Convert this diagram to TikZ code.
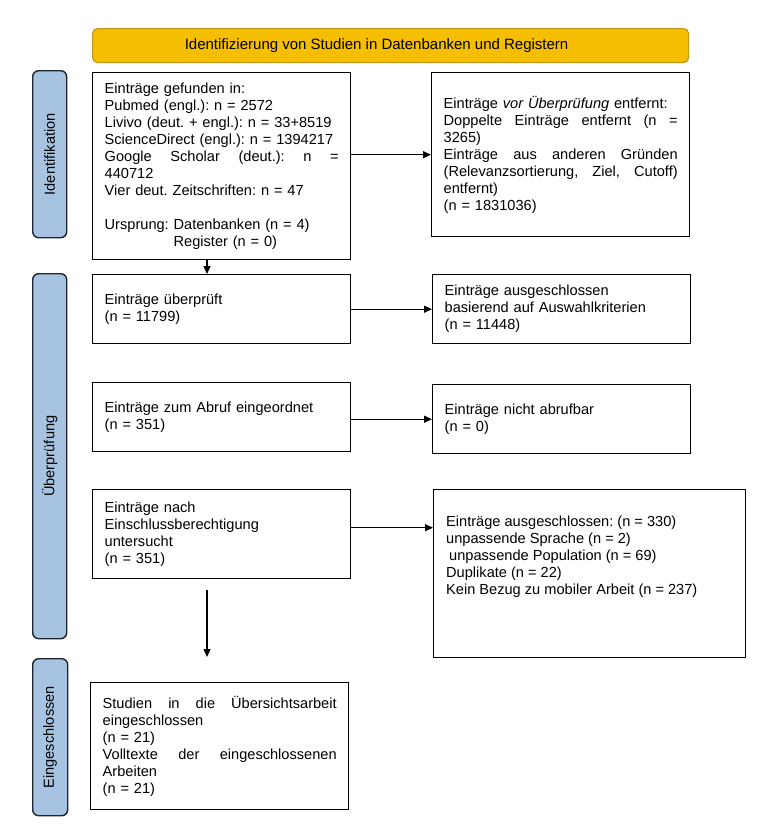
\documentclass[tikz,border=0pt]{standalone}
\usepackage{fontspec}
\setmainfont{Liberation Sans}
\usetikzlibrary{arrows.meta}
\definecolor{bannerfill}{RGB}{246,190,0}
\definecolor{bannerline}{RGB}{196,152,20}
\definecolor{labfill}{RGB}{166,196,226}
\definecolor{labline}{RGB}{30,36,44}
\begin{document}
\frenchspacing
\begin{tikzpicture}[x=1pt,y=-1pt,
  every node/.style={font=\fontsize{14.6}{17}\selectfont},
  box/.style={draw=black, line width=1.4pt, fill=white, inner xsep=12pt, inner ysep=3pt,
    text width=#1, align=left, anchor=north west},
  box/.default=234pt,
  lab/.style={draw=labline, line width=1.4pt, fill=labfill, rounded corners=6pt,
    inner sep=0pt, minimum width=34pt, anchor=north west},
  banner/.style={draw=bannerline, line width=1.2pt, fill=bannerfill, rounded corners=5pt,
    inner sep=0pt, minimum width=596pt, minimum height=34pt, anchor=north west},
  txt/.style={inner sep=0pt, align=left, anchor=north west},
  arr/.style={-{Triangle[length=8pt,width=7pt]}, line width=1.3pt}]
\useasboundingbox (0,0) rectangle (770,833);
\fill[white] (0,0) rectangle (770,833);

\node[banner] (ban) at (92,28) {};
\node[inner sep=0pt, font=\fontsize{15}{17}\selectfont] (bant) at ([xshift=-14pt]ban.center) {Identifizierung von Studien in Datenbanken und Registern};

\node[lab, minimum height=167pt] (l1) at (32,70) {\rotatebox{90}{Identifikation}};
\node[lab, minimum height=365pt] (l2) at (32,273) {\rotatebox{90}{Überprüfung}};
\node[lab, minimum height=157pt, minimum width=35pt] (l3) at (32,658) {\rotatebox{90}{Eingeschlossen}};

\node[box, minimum height=187pt] (b1) at (92,72) {Einträge gefunden in:\\
Pubmed (engl.): n = 2572\\
Livivo (deut. + engl.): n = 33+8519\\
ScienceDirect (engl.): n = 1394217\\
Google\hfill Scholar\hfill (deut.):\hfill n\hfill =\\
440712\\
Vier deut. Zeitschriften: n = 47\\[17pt]
Ursprung: Datenbanken (n = 4)\\
\hphantom{Ursprung: }Register (n = 0)};

\node[box, minimum height=164pt] (b2) at (431,72) {Einträge \textit{vor Überprüfung} entfernt:\\
Doppelte\hfill Einträge\hfill entfernt\hfill (n\hfill =\\
3265)\\
Einträge\hfill aus\hfill anderen\hfill Gründen\\
(Relevanzsortierung,\hfill Ziel,\hfill Cutoff)\\
entfernt)\\
(n = 1831036)};

\node[box, minimum height=69pt] (b3) at (92,274) {Einträge überprüft\\(n = 11799)};
\node[box, minimum height=69pt] (b4) at (432,274) {Einträge ausgeschlossen\\basierend auf Auswahlkriterien\\(n = 11448)};

\node[box, minimum height=69pt] (b5) at (92,382) {Einträge zum Abruf eingeordnet\\(n = 351)};
\node[box, minimum height=69pt] (b6) at (432,384) {Einträge nicht abrufbar\\(n = 0)};

\node[box, minimum height=89pt] (b7) at (92,489) {Einträge nach\\Einschlussberechtigung\\untersucht\\(n = 351)};
\node[box=288pt, minimum height=168pt] (b8) at (433,489) {};
\node[txt] (b8t) at (446,516) {Einträge ausgeschlossen: (n = 330)\\
unpassende Sprache (n = 2)\\
\hspace{3pt}unpassende Population (n = 69)\\
Duplikate (n = 22)\\
Kein Bezug zu mobiler Arbeit (n = 237)};

\node[box, minimum height=127pt] (b9) at (90,682) {Studien\hfill in\hfill die\hfill Übersichtsarbeit\\
eingeschlossen\\
(n = 21)\\
Volltexte\hfill der\hfill eingeschlossenen\\
Arbeiten\\
(n = 21)};

\coordinate (ax) at (207,0);
\coordinate (a2s) at (207,590);
\coordinate (a2e) at (207,657);

\draw[arr] (b1.east |- b2.west) -- (b2.west);
\draw[arr] (b1.south -| ax) -- (b3.north -| ax);
\draw[arr] (b3.east |- b4.west) -- (b4.west);
\draw[arr] (b5.east |- b6.west) -- (b6.west);
\draw[arr] ([yshift=6.5pt]b7.east) -- ([yshift=6.5pt]b7.east -| b8.west);
\draw[arr] (a2s) -- (a2e);
\end{tikzpicture}
\end{document}
